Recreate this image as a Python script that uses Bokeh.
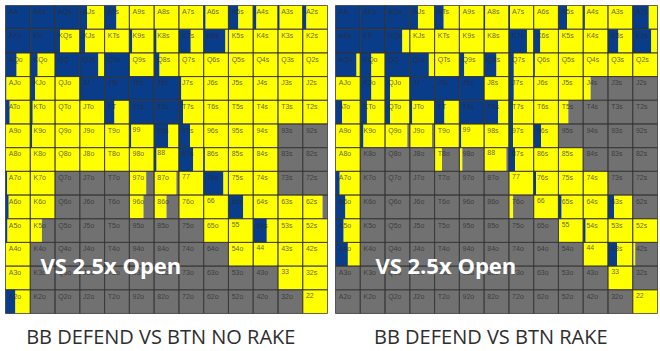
from bokeh.plotting import figure
from bokeh.models import ColumnDataSource, Range1d
from bokeh.layouts import row
from bokeh.core.properties import value
from bokeh.embed import file_html
from bokeh.resources import INLINE

RANKS = ["A", "K", "Q", "J", "T", "9", "8", "7", "6", "5", "4", "3", "2"]

TITLES = ["BB DEFEND VS BTN NO RAKE", "BB DEFEND VS BTN RAKE"]
OVERLAY = "VS 2.5x Open"

# share of each hand that is 3-bet (blue) / called (yellow); rest is folded (gray)
raise_no_rake = [
    [1, 1, 1, 0.3, 0.48, 0, 0, 0, 0.08, 0.4, 0.13, 0.07, 0.15],
    [1, 1, 0.2, 0.22, 0, 0.12, 0.1, 0.48, 0.88, 0, 0, 0, 0],
    [0.45, 0.3, 1, 0.75, 1, 0, 0.22, 0, 0, 0, 0, 0, 0],
    [0.04, 0.2, 0, 1, 1, 1, 1, 0.1, 0, 0, 0, 0, 0],
    [0.17, 0.1, 0, 0, 0.4, 1, 1, 0.17, 0, 0, 0, 0, 0],
    [0, 0.08, 0, 0, 0, 0.08, 0.57, 0.45, 0, 0, 0, 0, 0],
    [0, 0, 0, 0, 0, 0, 0.1, 0.58, 0.05, 0, 0, 0, 0],
    [0.07, 0, 0, 0, 0, 0, 0, 0, 0.8, 0, 0, 0, 0],
    [0.13, 0, 0, 0, 0, 0, 0, 0, 0, 0.6, 0, 0, 0],
    [0.08, 0, 0, 0, 0, 0, 0, 0, 0, 0, 0.55, 0, 0],
    [0, 0, 0, 0, 0, 0, 0, 0, 0, 0, 0, 0, 0],
    [0, 0, 0, 0, 0, 0, 0, 0, 0, 0, 0, 0, 0],
    [0.4, 0, 0, 0, 0, 0, 0, 0, 0, 0, 0, 0, 0],
]
call_no_rake = [
    [0, 0, 0, 0.7, 0.52, 1, 1, 1, 0.92, 0.6, 0.87, 0.93, 0.85],
    [0, 0, 0.8, 0.78, 1, 0.88, 0.9, 0.52, 0.12, 1, 1, 1, 1],
    [0.55, 0.7, 0, 0.25, 0, 1, 0.78, 1, 1, 1, 1, 1, 1],
    [0.96, 0.8, 1, 0, 0, 0, 0, 0.9, 1, 1, 1, 1, 1],
    [0.83, 0.9, 1, 1, 0.6, 0, 0, 0.83, 1, 1, 1, 1, 1],
    [1, 0.92, 1, 1, 1, 0.92, 0.43, 0.55, 1, 1, 1, 0, 0],
    [1, 1, 1, 1, 1, 1, 0.9, 0.42, 0.95, 1, 1, 0, 0],
    [0.93, 1, 0, 0, 0, 0.68, 0.9, 1, 0.2, 1, 1, 0, 0],
    [0.87, 1, 0, 0, 0, 0.57, 0.5, 1, 1, 0.4, 1, 1, 0.8],
    [0.92, 0.47, 0, 0, 0, 0, 0, 0, 1, 1, 0.45, 1, 1],
    [1, 0, 0, 0, 0, 0, 0, 0, 0, 1, 1, 1, 1],
    [1, 0, 0, 0, 0, 0, 0, 0, 0, 0, 0, 1, 1],
    [0.6, 0, 0, 0, 0, 0, 0, 0, 0, 0, 0, 0, 1],
]
raise_rake = [
    [1, 1, 1, 0.33, 0.37, 0, 0.05, 0.05, 0, 0.35, 0.07, 0, 0.65],
    [1, 1, 0.7, 0, 0, 0, 0, 0.73, 0.27, 0, 0, 0.42, 0.75],
    [0.85, 0.45, 1, 0.77, 0, 0.2, 0.5, 0.2, 0.05, 0, 0, 0, 0],
    [0, 0.45, 0.2, 1, 1, 1, 0, 0.2, 0, 0, 0, 0, 0],
    [0.27, 0.27, 0.2, 0.1, 0.4, 1, 0.57, 0.17, 0, 0, 0, 0, 0],
    [0, 0.13, 0, 0, 0, 0.08, 0, 0.17, 0.3, 0, 0, 0, 0],
    [0, 0, 0, 0, 0, 0, 0, 0.25, 0, 0, 0, 0, 0],
    [0.17, 0, 0, 0, 0, 0, 0, 0, 0.1, 0, 0, 0, 0],
    [0.4, 0, 0, 0, 0, 0, 0, 0, 0, 0.13, 0, 0.25, 0],
    [0.33, 0, 0, 0, 0, 0, 0, 0, 0, 0, 0.1, 0, 0],
    [0.5, 0, 0, 0, 0, 0, 0, 0, 0, 0, 0, 0.37, 0],
    [0, 0, 0, 0, 0, 0, 0, 0, 0, 0, 0, 0, 0],
    [0, 0, 0, 0, 0, 0, 0, 0, 0, 0, 0, 0, 0],
]
call_rake = [
    [0, 0, 0, 0.67, 0.63, 1, 0.95, 0.95, 1, 0.65, 0.93, 1, 0.35],
    [0, 0, 0.3, 1, 1, 1, 1, 0.27, 0.73, 1, 1, 0.58, 0.25],
    [0.15, 0.55, 0, 0.23, 1, 0.8, 0.5, 0.8, 0.95, 1, 1, 1, 1],
    [1, 0.55, 0.8, 0, 0, 0, 1, 0.8, 1, 1, 0.3, 0, 0],
    [0.73, 0.73, 0.8, 0.9, 0.6, 0, 0.43, 0.83, 1, 0.4, 0, 0, 0],
    [1, 0.87, 0.9, 0.9, 1, 0.92, 1, 0.83, 0.7, 0, 0, 0, 0],
    [1, 0, 0, 0, 0.3, 0.12, 0.9, 0.75, 1, 1, 0, 0, 0],
    [0.83, 0, 0, 0, 0, 0, 0, 1, 0.9, 1, 1, 0, 0],
    [0.6, 0, 0, 0, 0, 0, 0, 0.17, 1, 0.87, 1, 0.75, 0],
    [0.67, 0, 0, 0, 0, 0, 0, 0, 0, 1, 0.9, 1, 1],
    [0.5, 0, 0, 0, 0, 0, 0, 0, 0, 0, 1, 0.63, 0.1],
    [0, 0, 0, 0, 0, 0, 0, 0, 0, 0, 0, 1, 0],
    [0, 0, 0, 0, 0, 0, 0, 0, 0, 0, 0, 0, 1],
]

BLUE = "#0a3d89"
YELLOW = "#ffff00"
GRAY = "#717171"


def hand(i, j):
    if i == j:
        return RANKS[i] + RANKS[j]
    if i < j:
        return RANKS[i] + RANKS[j] + "s"
    return RANKS[j] + RANKS[i] + "o"


def make_grid(raise_m, call_m, title, overlay_x):
    n = len(RANKS)
    p = figure(width=330, height=351, output_backend="svg", toolbar_location=None,
               x_range=Range1d(-0.202, 13.121), y_range=Range1d(14.605, -0.211),
               min_border=0)
    p.axis.visible = False
    p.grid.visible = False
    p.outline_line_color = None
    p.background_fill_color = "white"
    p.border_fill_color = "white"

    segs = {"left": [], "right": [], "top": [], "bottom": [], "color": []}
    cells = {"left": [], "right": [], "top": [], "bottom": []}
    labels = {"x": [], "y": [], "t": []}
    for i in range(n):
        for j in range(n):
            b = raise_m[i][j]
            c = call_m[i][j]
            parts = [(b, BLUE), (c, YELLOW), (max(0.0, 1 - b - c), GRAY)]
            x0 = j
            for frac, col in parts:
                if frac <= 0.001:
                    continue
                segs["left"].append(x0)
                segs["right"].append(min(j + 1, x0 + frac))
                segs["top"].append(i)
                segs["bottom"].append(i + 1)
                segs["color"].append(col)
                x0 += frac
            cells["left"].append(j)
            cells["right"].append(j + 1)
            cells["top"].append(i)
            cells["bottom"].append(i + 1)
            labels["x"].append(j + 0.13)
            labels["y"].append(i + 0.12)
            labels["t"].append(hand(i, j))

    p.quad(source=ColumnDataSource(segs), left="left", right="right", top="top",
           bottom="bottom", fill_color="color", line_color=None)
    p.quad(source=ColumnDataSource(cells), left="left", right="right", top="top",
           bottom="bottom", fill_color=None, line_color="#333333", line_width=1,
           line_alpha=0.75)
    p.text(source=ColumnDataSource(labels), x="x", y="y", text="t",
           text_font=value("Liberation Sans"), text_font_size="7px",
           text_color="#2a2a2a", text_alpha=0.75, text_baseline="top",
           text_align="left")
    p.text(x=[overlay_x], y=[10.97], text=[OVERLAY], text_font=value("Open Sans"),
           text_font_size="22px", text_font_style="bold", text_color="white",
           text_baseline="alphabetic", text_align="left")
    p.text(x=[6.27], y=[13.98], text=[title], text_font=value("Open Sans"),
           text_font_size="20px", text_color="#2e2e2e",
           text_baseline="alphabetic", text_align="center")
    return p


p1 = make_grid(raise_no_rake, call_no_rake, TITLES[0], 1.41)
p2 = make_grid(raise_rake, call_rake, TITLES[1], 1.61)
layout = row(p1, p2, spacing=0)

open("out.html", "w").write(file_html(layout, INLINE))
